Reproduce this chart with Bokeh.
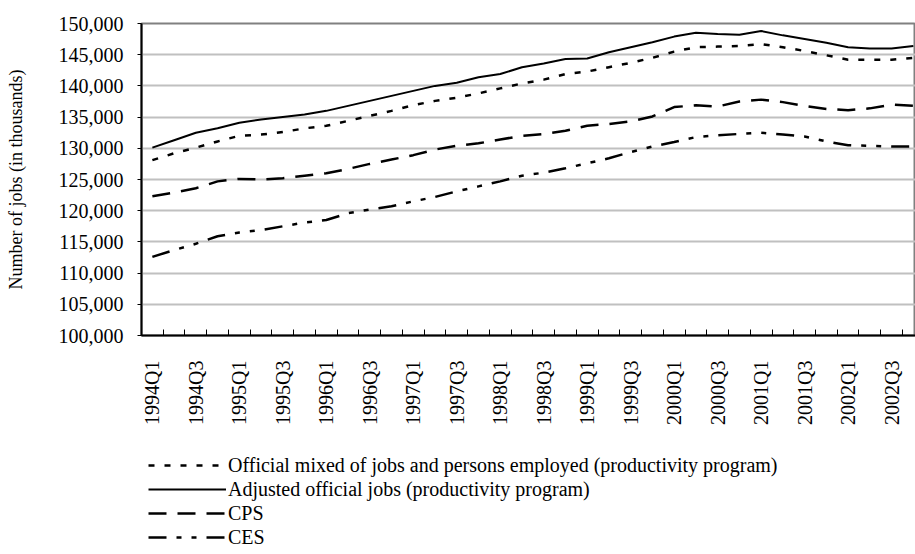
import math
from bokeh.plotting import figure
from bokeh.layouts import column
from bokeh.models import Range1d, FixedTicker, NumeralTickFormatter, Legend, LegendItem
from bokeh.embed import file_html
from bokeh.resources import INLINE

quarters = [
    "1994Q1", "1994Q2", "1994Q3", "1994Q4",
    "1995Q1", "1995Q2", "1995Q3", "1995Q4",
    "1996Q1", "1996Q2", "1996Q3", "1996Q4",
    "1997Q1", "1997Q2", "1997Q3", "1997Q4",
    "1998Q1", "1998Q2", "1998Q3", "1998Q4",
    "1999Q1", "1999Q2", "1999Q3", "1999Q4",
    "2000Q1", "2000Q2", "2000Q3", "2000Q4",
    "2001Q1", "2001Q2", "2001Q3", "2001Q4",
    "2002Q1", "2002Q2", "2002Q3", "2002Q4",
]

official_mixed = [128100, 129200, 130100, 131100, 132000, 132200, 132600, 133200, 133600,
                  134400, 135200, 136000, 136900, 137600, 138100, 138800, 139600, 140400,
                  141000, 141900, 142300, 143000, 143700, 144500, 145500, 146200, 146300,
                  146400, 146700, 146200, 145600, 144900, 144200, 144200, 144200, 144500]

adjusted_official = [130100, 131300, 132500, 133200, 134100, 134600, 135000, 135400, 136000,
                     136800, 137600, 138400, 139200, 140000, 140500, 141400, 141900, 143000,
                     143600, 144300, 144400, 145400, 146200, 147000, 147900, 148500, 148300,
                     148200, 148800, 148100, 147500, 146900, 146200, 146000, 146000, 146400]

cps = [122300, 122900, 123600, 124700, 125100, 125000, 125200, 125600, 126000,
       126700, 127500, 128200, 128900, 129800, 130400, 130800, 131400, 132000,
       132300, 132800, 133600, 133900, 134300, 135100, 136600, 136900, 136700,
       137500, 137800, 137400, 136800, 136300, 136100, 136400, 137000, 136800]

ces = [112600, 113700, 114700, 115900, 116500, 116900, 117500, 118100, 118500,
       119600, 120200, 120700, 121500, 122200, 123100, 123900, 124700, 125600,
       126100, 126800, 127600, 128400, 129400, 130300, 131000, 131800, 132100,
       132300, 132500, 132200, 131900, 131100, 130500, 130400, 130300, 130300]

labels = [
    "Official mixed of jobs and persons employed (productivity program)",
    "Adjusted official jobs (productivity program)",
    "CPS",
    "CES",
]

y_ticks = list(range(100000, 150001, 5000))

x = list(range(len(quarters)))
FONT = "Liberation Serif"

styles = [
    dict(line_color="black", line_width=2.5, line_dash="6 10"),
    dict(line_color="black", line_width=2),
    dict(line_color="black", line_width=2.5, line_dash="18 11"),
    dict(line_color="black", line_width=2.5, line_dash="18 10 5 10 5 10"),
]
series = [official_mixed, adjusted_official, cps, ces]

p = figure(width=915, height=440, output_backend="svg", toolbar_location=None,
           x_range=Range1d(-0.5, 35.1), y_range=Range1d(100000, 150000),
           min_border_left=141, min_border_right=0, min_border_top=23, min_border_bottom=105)
p.background_fill_color = "white"
p.border_fill_color = "white"
p.outline_line_color = "#808080"
p.outline_line_width = 2

for s, st in zip(series, styles):
    p.line(x, s, **st)

# x axis
p.xgrid.visible = False
p.xaxis.ticker = FixedTicker(ticks=list(range(0, 36, 2)),
                             minor_ticks=[i - 0.5 for i in range(37)])
p.xaxis.major_label_overrides = {i: quarters[i] for i in range(0, 36, 2)}
p.xaxis.major_label_orientation = math.pi / 2
p.xaxis.major_tick_in = 0
p.xaxis.major_tick_out = 0
p.xaxis.minor_tick_in = 6
p.xaxis.minor_tick_out = 0
p.xaxis.minor_tick_line_color = "black"
p.xaxis.minor_tick_line_width = 1
p.xaxis.axis_line_color = "black"
p.xaxis.axis_line_width = 2
p.xaxis.major_label_standoff = 25
p.xaxis.major_label_text_font = FONT
p.xaxis.major_label_text_font_size = "20px"
p.xaxis.major_label_text_color = "black"

# y axis
p.yaxis.ticker = FixedTicker(ticks=y_ticks, minor_ticks=[])
p.yaxis.formatter = NumeralTickFormatter(format="0,0")
p.yaxis.major_tick_in = 0
p.yaxis.major_tick_out = 4
p.yaxis.major_tick_line_color = "black"
p.yaxis.major_tick_line_width = 1
p.yaxis.axis_line_color = "black"
p.yaxis.axis_line_width = 2
p.yaxis.major_label_standoff = 14
p.yaxis.major_label_text_font = FONT
p.yaxis.major_label_text_font_size = "20px"
p.yaxis.major_label_text_color = "black"
p.yaxis.axis_label = "Number of jobs (in thousands)"
p.yaxis.axis_label_text_font = FONT
p.yaxis.axis_label_text_font_size = "18px"
p.yaxis.axis_label_text_font_style = "normal"
p.yaxis.axis_label_text_color = "black"
p.yaxis.axis_label_standoff = 30

p.ygrid.grid_line_color = "#c0c0c0"
p.ygrid.grid_line_width = 2

# legend panel (separate figure below the chart; its frame aligns with the chart's)
lg = figure(width=915, height=114, output_backend="svg", toolbar_location=None,
            x_axis_type=None, y_axis_type=None,
            x_range=Range1d(-0.5, 35.1), y_range=Range1d(0, 1),
            min_border_left=0, min_border_right=0, min_border_top=0, min_border_bottom=0)
lg.outline_line_color = None
lg.grid.visible = False
lg.background_fill_color = "white"
lg.border_fill_color = "white"

items = []
for lab, s, st in zip(labels, series, styles):
    r = lg.line(x, s, **st)  # same series; lies outside this panel's view, used for legend keys
    items.append(LegendItem(label=lab, renderers=[r]))

legend = Legend(items=items, location=(7, 5), orientation="vertical")
legend.border_line_color = None
legend.background_fill_alpha = 0
legend.padding = 0
legend.margin = 0
legend.spacing = 0
legend.glyph_width = 78
legend.glyph_height = 24
legend.label_height = 24
legend.label_standoff = 2
legend.label_text_font = FONT
legend.label_text_font_size = "20px"
legend.label_text_color = "black"
lg.add_layout(legend, "center")

layout = column(p, lg, spacing=0)
open("out.html", "w").write(file_html(layout, INLINE))
